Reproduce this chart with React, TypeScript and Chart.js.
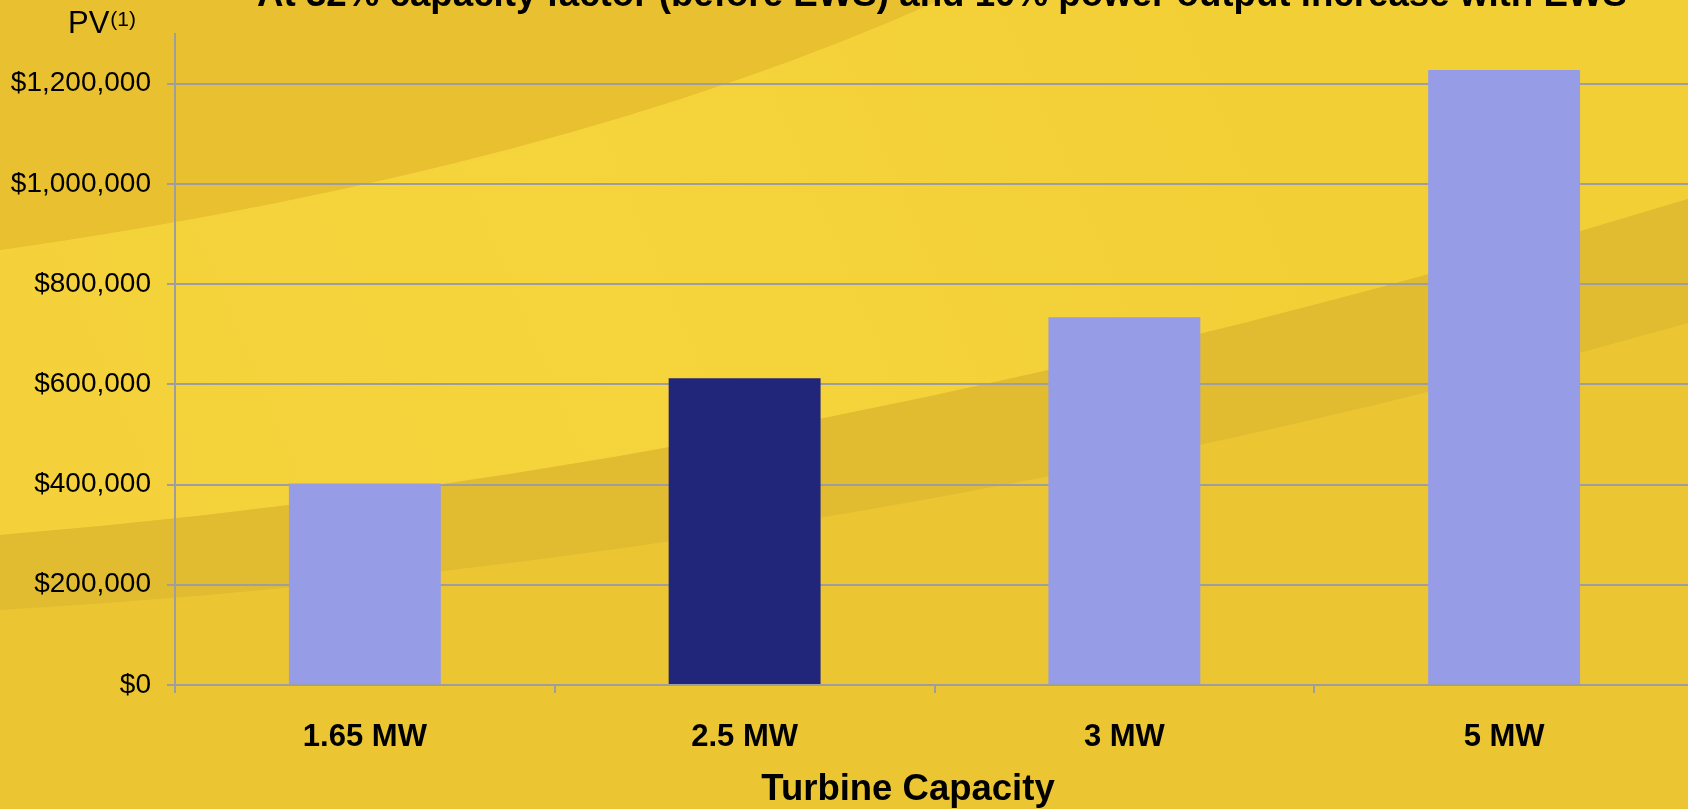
import React, { useEffect, useRef } from 'react';
import { Chart, registerables } from 'chart.js';

Chart.register(...registerables);

const categories = ['1.65 MW', '2.5 MW', '3 MW', '5 MW'];
const pvValues = [402000, 612000, 734000, 1227000];
const barColors = ['#979CE6', '#22267A', '#979CE6', '#979CE6'];
const yTickValues = [0, 200000, 400000, 600000, 800000, 1000000, 1200000];
const yMax = 1300000;
const titleText = 'At 32% capacity factor (before EWS) and 10% power output increase with EWS';
const xAxisTitle = 'Turbine Capacity';
const yAxisLabel = 'PV';
const yAxisLabelNote = '(1)';

const FONT = "'Liberation Sans', Arial, sans-serif";
const GRID = '#9e9e9e';

const backgroundPlugin = {
  id: 'slideBackground',
  beforeDraw(chart: any) {
    const ctx = chart.ctx;
    const W = chart.width;
    const H = chart.height;
    ctx.save();
    // base
    ctx.fillStyle = '#EBC532';
    ctx.fillRect(0, 0, W, H);
    // light middle band
    ctx.beginPath();
    ctx.moveTo(0, 250);
    ctx.lineTo(0, 535);
    ctx.quadraticCurveTo(800, 470, 1688, 199);
    ctx.lineTo(W, 0);
    ctx.lineTo(940, 0);
    ctx.quadraticCurveTo(560, 170, 0, 250);
    ctx.closePath();
    const g = ctx.createLinearGradient(0, 500, 1200, 0);
    g.addColorStop(0, '#F4D13A');
    g.addColorStop(0.5, '#F5D43C');
    g.addColorStop(1, '#F3CF36');
    ctx.fillStyle = g;
    ctx.fill();
    // top-left darker area
    ctx.beginPath();
    ctx.moveTo(0, 0);
    ctx.lineTo(940, 0);
    ctx.quadraticCurveTo(560, 170, 0, 250);
    ctx.closePath();
    ctx.fillStyle = '#E8C030';
    ctx.fill();
    // swoosh
    ctx.beginPath();
    ctx.moveTo(0, 535);
    ctx.quadraticCurveTo(800, 470, 1688, 199);
    ctx.lineTo(W, 199);
    ctx.lineTo(W, 323);
    ctx.lineTo(1688, 323);
    ctx.quadraticCurveTo(850, 560, 0, 610);
    ctx.closePath();
    ctx.fillStyle = '#E1BB30';
    ctx.fill();
    ctx.restore();
  },
};

const textPlugin = {
  id: 'slideTexts',
  afterDraw(chart: any) {
    const ctx = chart.ctx;
    ctx.save();
    ctx.fillStyle = '#000';
    ctx.textBaseline = 'alphabetic';
    ctx.textAlign = 'center';
    ctx.font = `bold 36.7px ${FONT}`;
    ctx.fillText(titleText, 942, 6);
    ctx.font = `bold 36.5px ${FONT}`;
    ctx.textBaseline = 'middle';
    ctx.fillText(xAxisTitle, 908, 790);
    ctx.textBaseline = 'alphabetic';
    ctx.textAlign = 'left';
    ctx.font = `31px ${FONT}`;
    ctx.fillText(yAxisLabel, 68, 33);
    const w = ctx.measureText(yAxisLabel).width;
    ctx.font = `21px ${FONT}`;
    ctx.fillText(yAxisLabelNote, 68 + w + 1, 26);
    ctx.restore();
  },
};

export default function App() {
  const canvasRef = useRef<HTMLCanvasElement | null>(null);

  useEffect(() => {
    if (!canvasRef.current) return;
    const chart = new Chart(canvasRef.current, {
      type: 'bar',
      data: {
        labels: categories,
        datasets: [
          {
            label: 'PV',
            data: pvValues,
            backgroundColor: barColors,
            borderWidth: 0,
            barPercentage: 0.4,
            categoryPercentage: 1,
          },
        ],
      },
      options: {
        animation: false,
        responsive: true,
        maintainAspectRatio: false,
        devicePixelRatio: 1,
        layout: { padding: { left: 11, right: 6, top: 33.5, bottom: 0 } },
        plugins: {
          legend: { display: false },
          title: { display: false },
          tooltip: { enabled: false },
        },
        scales: {
          x: {
            offset: true,
            afterFit: (axis: any) => {
              axis.height = 124;
            },
            grid: {
              display: true,
              drawOnChartArea: false,
              drawTicks: true,
              tickLength: 8,
              color: GRID,
              lineWidth: 2,
              offset: true,
            },
            border: { display: true, color: GRID, width: 2 },
            ticks: {
              color: '#000',
              padding: 25.5,
              font: { family: FONT, size: 31, weight: 'bold', lineHeight: 1.2 },
            },
            title: { display: false, text: xAxisTitle },
          },
          y: {
            min: 0,
            max: yMax,
            afterBuildTicks: (axis: any) => {
              axis.ticks = yTickValues.map((v) => ({ value: v }));
            },
            afterFit: (axis: any) => {
              axis.width = 164;
            },
            grid: {
              color: GRID,
              lineWidth: 2,
              drawTicks: true,
              tickLength: 8,
            },
            border: { display: true, color: GRID, width: 2 },
            ticks: {
              color: '#000',
              padding: 16,
              font: { family: FONT, size: 28 },
              callback: (v: any) => '$' + Number(v).toLocaleString('en-US'),
            },
          },
        },
      },
      plugins: [backgroundPlugin, textPlugin],
    });
    return () => chart.destroy();
  }, []);

  return (
    <div style={{ position: 'absolute', left: 0, top: 0, width: 1688, height: 809, overflow: 'hidden' }}>
      <div style={{ position: 'relative', width: 1700, height: 809 }}>
        <canvas ref={canvasRef} />
      </div>
    </div>
  );
}
